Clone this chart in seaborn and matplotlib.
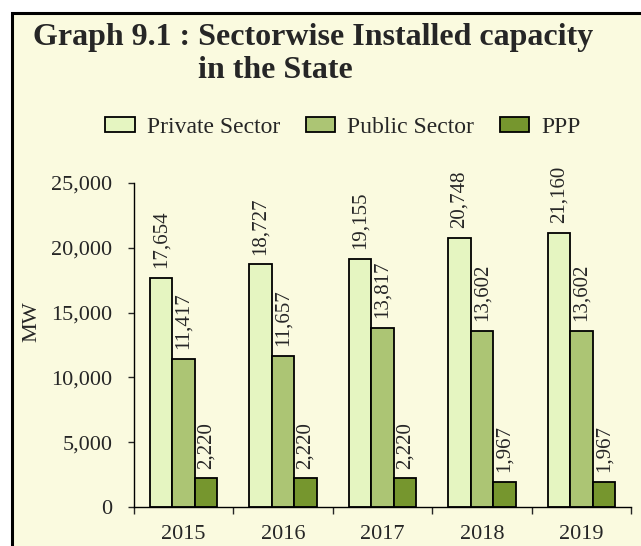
import pandas as pd
import matplotlib
matplotlib.use('Agg')
from matplotlib import pyplot as plt
from matplotlib.patches import Rectangle
import seaborn as sns


years = ['2015', '2016', '2017', '2018', '2019']
sectors = ['Private Sector', 'Public Sector', 'PPP']
private_mw = [17654, 18727, 19155, 20748, 21160]
public_mw = [11417, 11657, 13817, 13602, 13602]
ppp_mw = [2220, 2220, 2220, 1967, 1967]
y_ticks = [0, 5000, 10000, 15000, 20000, 25000]

colours = ['#E5F5C1', '#ACC574', '#76962E']
bg = '#FAFADF'

df = pd.DataFrame({'Год': years * 3,
                   'Сектор': [s for s in sectors for _ in years],
                   'MW': private_mw + public_mw + ppp_mw})

sns.set_style('white')
plt.rcParams['font.family'] = ['Liberation Serif', 'DejaVu Serif']

fig = plt.figure(figsize=(6.41, 5.46), dpi=100, facecolor='white')
# панель с рамкой, уходит за правый и нижний край
fig.patches.append(Rectangle((12 / 641, -0.05), 1.1, 1 - 13 / 546 + 0.05,
                             transform=fig.transFigure, facecolor=bg,
                             edgecolor='black', linewidth=2.2, zorder=-5))

ax = fig.add_axes([134 / 641, 1 - 507 / 546, 497 / 641, 324 / 546])
ax.set_facecolor('none')

sns.barplot(data=df, x='Год', y='MW', hue='Сектор', palette=colours,
            saturation=1, edgecolor='black', linewidth=1.3, width=0.68,
            ax=ax, legend=True)

for cont in ax.containers:
    ax.bar_label(cont, labels=[f'{v:,.0f}' for v in cont.datavalues],
                 rotation=90, padding=7, fontsize=15)

ax.set_ylim(0, 25000)
ax.set_xlim(-0.5, 4.5)
ax.set_yticks(y_ticks)
ax.set_yticklabels([f'{v:,}' for v in y_ticks], fontsize=16)
ax.tick_params(axis='y', direction='out', length=4.5, width=1, left=True,
               pad=11)
ax.tick_params(axis='x', which='major', length=0, labelsize=16, pad=13)
ax.set_xticks([i - 0.5 for i in range(6)], minor=True)
ax.tick_params(axis='x', which='minor', direction='out', length=5, width=1,
               bottom=True)
ax.set_xlabel('')
ax.set_ylabel('MW', fontsize=16)
ax.yaxis.set_label_coords(-0.187, 0.571)
sns.despine(ax=ax)
for s in ['left', 'bottom']:
    ax.spines[s].set_color('black')
    ax.spines[s].set_linewidth(1)

handles, labels = ax.get_legend_handles_labels()
ax.get_legend().remove()
fig.legend(handles, labels, loc='center', bbox_to_anchor=(0.535, 1 - 127 / 546),
           ncol=3, frameon=False, fontsize=17, handlelength=1.25,
           handleheight=0.6, handletextpad=0.5, columnspacing=1.1)

fig.text(33 / 641, 1 - 37 / 546, 'Graph 9.1 : Sectorwise Installed capacity',
         fontsize=23, fontweight='bold', va='center', ha='left')
fig.text(198 / 641, 1 - 70 / 546, 'in the State',
         fontsize=23, fontweight='bold', va='center', ha='left')

fig.savefig('out.png', dpi=100, facecolor='white')
